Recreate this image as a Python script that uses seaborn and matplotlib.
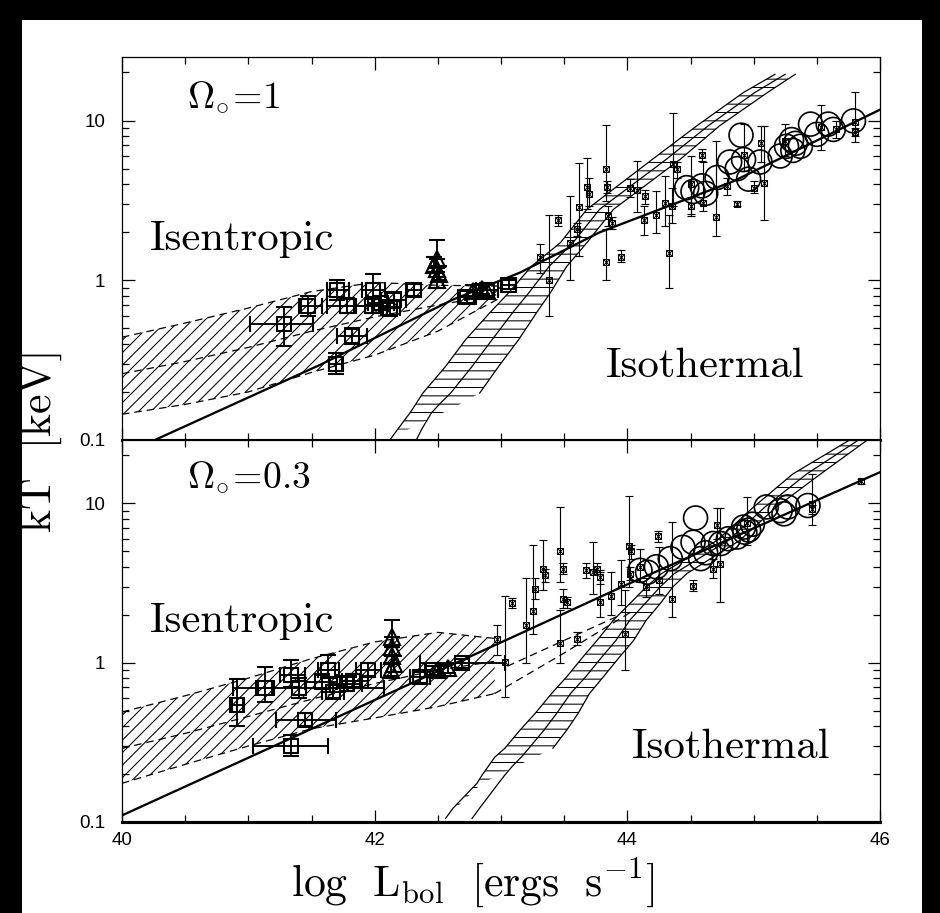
import numpy as np
import matplotlib
matplotlib.use("Agg")
import matplotlib.pyplot as plt
import seaborn as sns
from matplotlib.patches import Rectangle
from matplotlib.ticker import FixedLocator, MultipleLocator, LogLocator, NullFormatter, FixedFormatter

# ---------------- data: upper panel (Omega=1) ----------------
up_fit_x = [40.26, 41.57, 42.62, 43.15, 43.78, 44.84, 46.0]
up_fit_T = [0.100, 0.296, 0.757, 1.117, 1.995, 4.17, 11.7]

up_isen_x = [40.0, 40.5, 41.0, 41.5, 42.0, 42.5, 43.0]
up_isen_hi = [0.44, 0.54, 0.67, 0.85, 0.97, 0.93, 0.92]
up_isen_mid = [0.26, 0.31, 0.38, 0.48, 0.59, 0.70, 0.82]
up_isen_lo = [0.145, 0.167, 0.20, 0.265, 0.34, 0.48, 0.78]

up_iso_T = [0.10, 0.116, 0.148, 0.170, 0.196, 0.288, 0.425, 0.624, 0.834, 1.22, 1.72, 2.78, 5.73, 9.27, 15.0, 19.5]
up_iso_left = [42.12, 42.18, 42.28, 42.33, 42.38, 42.56, 42.72, 42.91, 43.06, 43.24, 43.47, 43.68, 44.20, 44.55, 44.92, 45.17]
up_iso_mid = [42.33, 42.37, 42.45, 42.52, 42.60, 42.77, 42.93, 43.09, 43.22, 43.38, 43.57, 43.78, 44.31, 44.64, 45.01, 45.25]
up_iso_right = [42.14, 42.26, 42.54, 42.69, 42.83, 42.98, 43.14, 43.28, 43.39, 43.52, 43.68, 43.89, 44.42, 44.73, 45.11, 45.33]

up_sq_x = [41.28, 41.47, 41.70, 41.78, 41.82, 41.69, 41.99, 41.98, 42.05, 42.15, 42.12, 42.31, 42.73, 42.89, 43.06]
up_sq_T = [0.53, 0.69, 0.875, 0.69, 0.445, 0.30, 0.875, 0.69, 0.72, 0.757, 0.67, 0.875, 0.79, 0.875, 0.94]
up_sq_xlo = [41.01, 41.40, 41.62, 41.62, 41.70, 41.64, 41.90, 41.85, 41.95, 42.05, 42.05, 42.25, 42.66, 42.80, 43.00]
up_sq_xhi = [41.51, 41.58, 41.80, 41.99, 41.94, 41.74, 42.08, 42.10, 42.15, 42.25, 42.20, 42.37, 42.80, 42.98, 43.12]
up_sq_Tlo = [0.39, 0.60, 0.75, 0.62, 0.40, 0.26, 0.70, 0.62, 0.65, 0.68, 0.60, 0.80, 0.72, 0.80, 0.88]
up_sq_Thi = [0.68, 0.80, 1.00, 0.78, 0.50, 0.35, 1.09, 0.78, 0.80, 0.84, 0.75, 0.95, 0.86, 0.96, 1.00]

up_tri_x = [42.49, 42.49, 42.49, 42.47, 42.51, 42.78, 42.85, 42.89]
up_tri_T = [1.35, 1.17, 1.00, 1.25, 1.10, 0.86, 0.88, 0.86]
up_tri_Tlo = [1.20, 1.05, 0.90, 1.12, 1.00, 0.80, 0.82, 0.80]
up_tri_Thi = [1.80, 1.35, 1.12, 1.40, 1.22, 0.93, 0.95, 0.93]

up_xm_x = [43.31, 43.38, 43.45, 43.55, 43.60, 43.62, 43.68, 43.70, 43.83, 43.83,
           43.84, 43.85, 43.88, 43.95, 44.02, 44.08, 44.14, 44.13, 44.23, 44.30,
           44.33, 44.35, 44.36, 44.39, 44.50, 44.50, 44.59, 44.60, 44.70, 44.79,
           44.87, 44.92, 45.00, 45.06, 45.08, 45.25, 45.53, 45.65, 45.80, 45.80]
up_xm_T = [1.39, 1.00, 2.37, 1.70, 2.08, 2.87, 3.84, 3.45, 4.96, 1.30,
           3.84, 2.51, 2.29, 1.40, 3.77, 3.70, 3.37, 2.38, 2.58, 3.06,
           1.49, 2.92, 5.32, 4.96, 3.98, 2.92, 6.07, 3.06, 2.48, 3.90,
           3.02, 6.07, 3.80, 7.20, 4.05, 7.50, 9.06, 8.80, 9.80, 8.50]
up_xm_lo = [1.11, 0.594, 2.20, 1.00, 1.90, 1.42, 2.78, 2.90, 3.13, 1.00,
            3.50, 2.20, 2.10, 1.30, 3.30, 2.67, 3.00, 1.91, 1.99, 2.18,
            0.895, 2.30, 2.92, 4.40, 2.51, 2.60, 5.60, 2.70, 1.89, 3.40,
            2.90, 4.80, 3.50, 5.50, 2.37, 6.00, 6.50, 7.80, 7.30, 8.00]
up_xm_hi = [1.69, 2.58, 2.55, 3.37, 2.30, 5.40, 5.80, 4.40, 9.40, 2.08,
            4.20, 2.90, 2.50, 1.55, 4.30, 5.60, 3.70, 2.92, 3.62, 4.50,
            2.58, 3.80, 11.2, 5.50, 6.00, 3.30, 6.60, 5.50, 7.50, 4.40,
            3.15, 9.50, 4.20, 9.30, 9.30, 9.50, 12.5, 10.0, 15.1, 9.00]

up_circ_x = [44.90, 44.47, 44.52, 44.59, 44.62, 44.71, 44.81, 44.87, 44.92, 44.96, 45.05,
             45.21, 45.26, 45.30, 45.31, 45.37, 45.33, 45.45, 45.50, 45.59, 45.63, 45.79]
up_circ_T = [8.1, 3.8, 3.6, 3.9, 3.5, 4.4, 5.5, 5.0, 5.7, 4.3, 5.5,
             6.0, 6.9, 7.6, 6.5, 6.9, 7.2, 9.5, 8.2, 9.5, 8.8, 9.95]

# ---------------- data: lower panel (Omega=0.3) ----------------
lo_fit_x = [40.0, 43.15, 44.0, 46.0]
lo_fit_T = [0.11, 1.52, 3.1, 15.7]

lo_isen_x = [40.0, 40.5, 41.0, 41.5, 42.0, 42.5, 42.95]
lo_isen_hi = [0.49, 0.62, 0.80, 1.06, 1.35, 1.55, 1.42]
lo_isen_mid = [0.29, 0.36, 0.46, 0.59, 0.74, 0.90, 1.02]
lo_isen_lo = [0.175, 0.23, 0.30, 0.385, 0.45, 0.53, 0.64]
lo_ghost1_x = [42.95, 43.5, 44.05]
lo_ghost1_T = [0.64, 1.15, 2.13]
lo_ghost2_x = [43.05, 43.5, 43.95]
lo_ghost2_T = [0.95, 1.38, 2.0]

lo_iso_T = [0.105, 0.122, 0.175, 0.197, 0.224, 0.255, 0.290, 0.377, 0.48, 0.64, 0.815,
            1.09, 1.38, 1.85, 2.35, 2.99, 3.62, 5.86, 9.5, 15.3, 25.0]
lo_iso_left = [42.56, 42.62, 42.81, 42.85, 42.90, 42.95, 43.03, 43.15, 43.27, 43.40, 43.52,
               43.65, 43.76, 43.89, 44.02, 44.15, 44.27, 44.71, 45.00, 45.31, 45.76]
lo_iso_mid = [42.77, 42.83, 42.98, 43.03, 43.09, 43.16, 43.22, 43.34, 43.44, 43.55, 43.67,
              43.80, 43.91, 44.02, 44.14, 44.26, 44.37, 44.80, 45.09, 45.42, 45.83]
lo_iso_right = [42.57, 42.64, 42.85, 42.98, 43.12, 43.27, 43.41, 43.52, 43.61, 43.70, 43.81,
                43.94, 44.05, 44.15, 44.26, 44.36, 44.47, 44.89, 45.18, 45.53, 45.90]

lo_sq_x = [40.91, 41.13, 41.34, 41.40, 41.45, 41.34, 41.58, 41.63, 41.67, 41.78, 41.83, 41.95, 42.36, 42.46, 42.69]
lo_sq_T = [0.54, 0.69, 0.836, 0.69, 0.437, 0.30, 0.76, 0.90, 0.656, 0.74, 0.77, 0.905, 0.815, 0.90, 0.99]
lo_sq_xlo = [40.87, 41.06, 41.25, 40.88, 41.22, 41.04, 41.45, 41.55, 41.58, 41.65, 41.74, 41.85, 42.28, 42.40, 42.36]
lo_sq_xhi = [40.96, 41.20, 41.45, 42.07, 41.69, 41.63, 41.70, 41.72, 41.76, 41.90, 41.95, 42.05, 42.44, 42.52, 43.03]
lo_sq_Tlo = [0.40, 0.57, 0.70, 0.60, 0.40, 0.26, 0.68, 0.80, 0.60, 0.66, 0.70, 0.82, 0.75, 0.84, 0.93]
lo_sq_Thi = [0.79, 0.94, 1.04, 0.80, 0.48, 0.35, 0.85, 1.11, 0.72, 0.82, 0.85, 1.00, 0.88, 0.96, 1.05]

lo_tri_x = [42.14, 42.14, 42.14, 42.15, 42.13, 42.50, 42.58]
lo_tri_T = [1.45, 1.25, 1.10, 0.98, 0.90, 0.90, 0.92]
lo_tri_Tlo = [1.25, 1.10, 0.98, 0.88, 0.82, 0.84, 0.86]
lo_tri_Thi = [1.85, 1.45, 1.25, 1.10, 1.00, 0.96, 0.98]

lo_xm_x = [42.97, 43.03, 43.09, 43.20, 43.25, 43.27, 43.33, 43.35, 43.47, 43.49,
           43.49, 43.52, 43.47, 43.60, 43.67, 43.73, 43.76, 43.78, 43.78, 43.87,
           43.95, 43.98, 44.01, 44.03, 44.02, 44.10, 44.15, 44.24, 44.25, 44.35,
           44.52, 44.68, 44.71, 44.73, 44.95, 45.46, 45.46, 45.85]
lo_xm_T = [1.40, 1.01, 2.38, 1.72, 2.10, 2.92, 3.90, 3.54, 5.00, 3.90,
           2.50, 2.40, 1.32, 1.40, 3.80, 3.70, 3.90, 3.45, 2.40, 2.62,
           3.10, 1.52, 5.40, 5.00, 3.60, 4.00, 2.99, 6.20, 3.30, 2.52,
           3.03, 3.90, 7.30, 4.15, 7.50, 9.96, 9.20, 13.8]
lo_xm_lo = [1.11, 0.61, 2.20, 1.00, 1.52, 2.50, 2.85, 3.20, 3.20, 3.60,
            2.20, 2.20, 1.00, 1.30, 3.40, 2.70, 3.60, 3.10, 1.94, 2.00,
            2.30, 0.905, 3.00, 4.50, 3.30, 3.20, 2.60, 5.70, 2.70, 1.94,
            2.80, 3.40, 6.00, 2.40, 5.50, 7.30, 8.60, 13.3]
lo_xm_hi = [1.72, 2.62, 2.55, 3.40, 5.45, 3.40, 5.86, 3.90, 9.50, 4.20,
            2.90, 2.60, 2.13, 1.55, 4.20, 5.70, 4.20, 3.80, 3.70, 3.70,
            4.40, 2.85, 11.2, 5.50, 4.00, 5.20, 3.40, 6.70, 5.30, 7.60,
            3.30, 4.50, 9.30, 9.30, 11.0, 15.3, 9.80, 14.3]

lo_circ_x = [44.54, 44.10, 44.16, 44.23, 44.34, 44.44, 44.52, 44.58, 44.62, 44.68, 44.74,
             44.80, 44.87, 44.92, 44.96, 44.99, 44.93, 45.10, 45.21, 45.27, 45.24, 45.43]
lo_circ_T = [8.1, 3.8, 3.7, 4.0, 4.5, 5.3, 5.7, 4.5, 4.9, 5.6, 5.6,
             6.0, 6.15, 7.1, 6.8, 7.4, 6.6, 9.5, 9.0, 9.5, 8.6, 9.7]

x_ticks = [40, 42, 44, 46]
x_ticklabels = ["40", "42", "44", "46"]
y_ticks = [0.1, 1, 10]
y_ticklabels = ["0.1", "1", "10"]

# ---------------- style ----------------
sns.set_theme(style="ticks")
plt.rcParams.update({
    "font.family": ["Liberation Sans", "DejaVu Sans"],
    "mathtext.fontset": "cm",
    "hatch.linewidth": 0.5,
    "hatch.color": "black",
    "axes.edgecolor": "black",
    "axes.facecolor": "white",
})

DPI = 150
fig = plt.figure(figsize=(940 / DPI, 913 / DPI), dpi=DPI, facecolor="black")
fig.add_artist(Rectangle((22 / 940, 0), 900 / 940, 893 / 913, transform=fig.transFigure,
                         facecolor="white", edgecolor="none", zorder=-10))

ax1 = fig.add_axes([122 / 940, 1 - 440 / 913, 758 / 940, 383 / 913])
ax2 = fig.add_axes([122 / 940, 1 - 822 / 913, 758 / 940, 382 / 913])

K = "black"
DASH = (0, (6, 4))


def err(v, lo, hi):
    v = np.asarray(v, float)
    return np.vstack([v - np.asarray(lo, float), np.asarray(hi, float) - v])


def panel(ax, d, show_x):
    ax.set_yscale("log")
    ax.set_xlim(40, 46)
    ax.set_ylim(0.1, 25)
    # isentropic band
    ax.fill_between(d["isen_x"], d["isen_lo"], d["isen_hi"], facecolor="none",
                    edgecolor=K, hatch="////", linewidth=0, zorder=1)
    for key in ("isen_lo", "isen_mid", "isen_hi"):
        ax.plot(d["isen_x"], d[key], color=K, lw=0.6, ls=DASH, zorder=2)
    for gx, gT in d.get("ghosts", []):
        ax.plot(gx, gT, color=K, lw=0.6, ls=DASH, zorder=2)
    # isothermal band
    s = d["iso_start"]
    ax.fill_betweenx(d["iso_T"][1:], d["iso_left"][1:], d["iso_right"][1:], facecolor="none",
                     edgecolor=K, hatch="---", linewidth=0, zorder=1)
    ax.plot(d["iso_left"], d["iso_T"], color=K, lw=0.6, zorder=2)
    ax.plot(d["iso_mid"], d["iso_T"], color=K, lw=0.6, zorder=2)
    ax.plot(d["iso_right"][s:], d["iso_T"][s:], color=K, lw=0.6, zorder=2)
    # fit line
    sns.lineplot(x=d["fit_x"], y=d["fit_T"], ax=ax, color=K, linewidth=1.1,
                 sort=False, estimator=None, zorder=3)
    # groups: squares
    ax.errorbar(d["sq_x"], d["sq_T"], xerr=err(d["sq_x"], d["sq_xlo"], d["sq_xhi"]),
                yerr=err(d["sq_T"], d["sq_Tlo"], d["sq_Thi"]), fmt="s", ms=7, mfc="none",
                mec=K, mew=1.0, ecolor=K, elinewidth=0.9, capsize=4, capthick=0.9, zorder=4)
    # triangles
    ax.errorbar(d["tri_x"], d["tri_T"], yerr=err(d["tri_T"], d["tri_Tlo"], d["tri_Thi"]),
                fmt="^", ms=8, mfc="none", mec=K, mew=1.0, ecolor=K, elinewidth=0.9,
                capsize=4, capthick=0.9, zorder=4)
    # clusters with error bars
    ax.errorbar(d["xm_x"], d["xm_T"], yerr=err(d["xm_T"], d["xm_lo"], d["xm_hi"]),
                fmt="none", ecolor=K, elinewidth=0.55, capsize=1.8, capthick=0.55, zorder=4)
    ax.plot(d["xm_x"], d["xm_T"], "s", ms=2.6, mfc="none", mec=K, mew=0.5, zorder=5)
    ax.plot(d["xm_x"], d["xm_T"], "x", ms=2.6, mec=K, mew=0.5, zorder=5)
    # big circles
    sns.scatterplot(x=d["circ_x"], y=d["circ_T"], ax=ax, marker="o", s=11.5 ** 2,
                    facecolor="none", edgecolor=K, linewidth=0.8, legend=False, zorder=5)

    # ticks
    ax.xaxis.set_major_locator(FixedLocator(x_ticks))
    ax.xaxis.set_major_formatter(FixedFormatter(x_ticklabels))
    ax.xaxis.set_minor_locator(MultipleLocator(0.5))
    ax.yaxis.set_major_locator(FixedLocator(y_ticks))
    ax.yaxis.set_major_formatter(FixedFormatter(y_ticklabels))
    ax.yaxis.set_minor_locator(LogLocator(base=10, subs=np.arange(2, 10)))
    ax.yaxis.set_minor_formatter(NullFormatter())
    ax.tick_params(which="both", direction="in", top=True, right=True, colors=K,
                   labelcolor=K, labelsize=9)
    ax.tick_params(which="major", length=6, width=0.6)
    ax.tick_params(which="minor", length=3.2, width=0.6)
    ax.tick_params(axis="y", which="major", pad=8)
    ax.tick_params(axis="x", which="major", pad=5, labelbottom=show_x)
    ax.set_xlabel("")
    ax.set_ylabel("")
    for sp in ("top", "left", "right"):
        ax.spines[sp].set_linewidth(0.6)
        ax.spines[sp].set_color(K)
    ax.spines["bottom"].set_linewidth(1.5)
    ax.spines["bottom"].set_color(K)


up = dict(fit_x=up_fit_x, fit_T=up_fit_T, isen_x=up_isen_x, isen_lo=up_isen_lo,
          isen_mid=up_isen_mid, isen_hi=up_isen_hi, iso_T=up_iso_T, iso_left=up_iso_left,
          iso_mid=up_iso_mid, iso_right=up_iso_right, iso_start=4,
          sq_x=up_sq_x, sq_T=up_sq_T, sq_xlo=up_sq_xlo, sq_xhi=up_sq_xhi,
          sq_Tlo=up_sq_Tlo, sq_Thi=up_sq_Thi, tri_x=up_tri_x, tri_T=up_tri_T,
          tri_Tlo=up_tri_Tlo, tri_Thi=up_tri_Thi, xm_x=up_xm_x, xm_T=up_xm_T,
          xm_lo=up_xm_lo, xm_hi=up_xm_hi, circ_x=up_circ_x, circ_T=up_circ_T)
lo = dict(fit_x=lo_fit_x, fit_T=lo_fit_T, isen_x=lo_isen_x, isen_lo=lo_isen_lo,
          isen_mid=lo_isen_mid, isen_hi=lo_isen_hi,
          ghosts=[(lo_ghost1_x, lo_ghost1_T), (lo_ghost2_x, lo_ghost2_T)],
          iso_T=lo_iso_T, iso_left=lo_iso_left, iso_mid=lo_iso_mid, iso_right=lo_iso_right,
          iso_start=6,
          sq_x=lo_sq_x, sq_T=lo_sq_T, sq_xlo=lo_sq_xlo, sq_xhi=lo_sq_xhi,
          sq_Tlo=lo_sq_Tlo, sq_Thi=lo_sq_Thi, tri_x=lo_tri_x, tri_T=lo_tri_T,
          tri_Tlo=lo_tri_Tlo, tri_Thi=lo_tri_Thi, xm_x=lo_xm_x, xm_T=lo_xm_T,
          xm_lo=lo_xm_lo, xm_hi=lo_xm_hi, circ_x=lo_circ_x, circ_T=lo_circ_T)

panel(ax1, up, False)
panel(ax2, lo, True)

TXT = dict(family="cmr10", color=K)
ax1.text(0.086, 0.867, r"$\Omega_{\circ}\!=\!1$", transform=ax1.transAxes, fontsize=18, color=K)
ax1.text(0.037, 0.496, "Isentropic", transform=ax1.transAxes, fontsize=20.5, **TXT)
ax1.text(0.639, 0.164, "Isothermal", transform=ax1.transAxes, fontsize=20.5, **TXT)
ax2.text(0.086, 0.874, r"$\Omega_{\circ}\!=\!0.3$", transform=ax2.transAxes, fontsize=18, color=K)
ax2.text(0.037, 0.497, "Isentropic", transform=ax2.transAxes, fontsize=20.5, **TXT)
ax2.text(0.673, 0.168, "Isothermal", transform=ax2.transAxes, fontsize=20.5, **TXT)

fig.text(40 / 940, 1 - 440 / 913, "kT  [keV]", rotation=90, ha="center", va="center",
         fontsize=21, **TXT)
fig.text(473 / 940, 1 - 883 / 913, r"$\mathrm{log\ \ L_{bol}\ \ [ergs\ \ s^{-1}]}$",
         ha="center", va="center", fontsize=21, color=K)

fig.savefig("out.png", dpi=DPI, facecolor=fig.get_facecolor())
